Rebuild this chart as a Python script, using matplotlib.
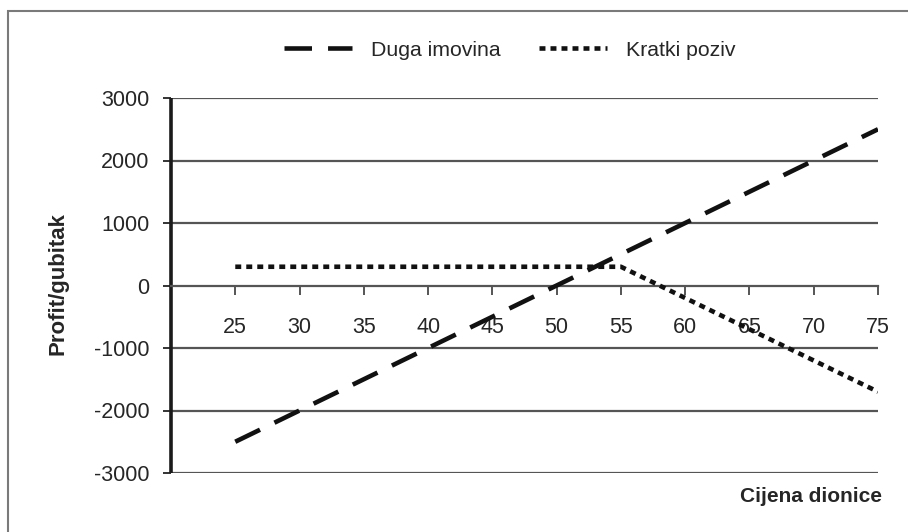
import matplotlib
matplotlib.use("Agg")
import matplotlib.pyplot as plt
from matplotlib.patches import Rectangle

plt.rcParams['font.family'] = ['Liberation Sans', 'DejaVu Sans']

# Data
prices = [25, 30, 35, 40, 45, 50, 55, 60, 65, 70, 75]
duga_imovina = [-2500, -2000, -1500, -1000, -500, 0, 500, 1000, 1500, 2000, 2500]
kratki_poziv = [300, 300, 300, 300, 300, 300, 300, -200, -700, -1200, -1700]
y_ticks = [-3000, -2000, -1000, 0, 1000, 2000, 3000]
x_ticks = [25, 30, 35, 40, 45, 50, 55, 60, 65, 70, 75]

W, H = 908, 532
fig = plt.figure(figsize=(W / 100, H / 100), dpi=100)
ax = fig.add_axes([171 / W, 1 - 473 / H, (878 - 171) / W, (473 - 98) / H])

text_color = '#262626'
grid_color = '#555555'

# gridlines
for yv in y_ticks:
    if yv != 0:
        ax.axhline(yv, color=grid_color, lw=1.6, zorder=1)

l1, = ax.plot(prices, duga_imovina, color='#111111', lw=3.3, dashes=(6.0, 3.5),
              dash_capstyle='butt', label='Duga imovina', zorder=3)
l2, = ax.plot(prices, kratki_poziv, color='#111111', lw=3.3, dashes=(1.3, 1.1),
              dash_capstyle='butt', label='Kratki poziv', zorder=3)

ax.set_xlim(20, 75)
ax.set_ylim(-3000, 3000)

ax.spines['top'].set_visible(False)
ax.spines['right'].set_visible(False)
ax.spines['bottom'].set_position(('data', 0))
ax.spines['bottom'].set_color(grid_color)
ax.spines['bottom'].set_linewidth(1.6)
ax.spines['left'].set_color('#1a1a1a')
ax.spines['left'].set_linewidth(2.6)
ax.spines['left'].set_capstyle('butt')

ax.set_xticks(x_ticks)
ax.set_xticklabels([str(v) for v in x_ticks])
ax.set_yticks(y_ticks)
ax.set_yticklabels([str(v) for v in y_ticks])

ax.tick_params(axis='x', direction='out', length=6.5, width=1.4, color=grid_color,
               pad=16, labelsize=15.5, labelcolor=text_color)
ax.tick_params(axis='y', direction='out', length=5.5, width=1.4, color='#333333',
               pad=10, labelsize=15.5, labelcolor=text_color)

fig.text(58 / W, 1 - 284 / H, 'Profit/gubitak', rotation=90, ha='center', va='center',
         fontsize=16, fontweight='bold', color=text_color)
fig.text(882 / W, 1 - 496 / H, 'Cijena dionice', ha='right', va='center',
         fontsize=15, fontweight='bold', color=text_color)

fig.legend(handles=[l1, l2], loc='center', bbox_to_anchor=(510 / W, 1 - 50 / H),
           ncol=2, frameon=False, fontsize=15.3, handlelength=3.2, handletextpad=0.9,
           columnspacing=1.8, labelcolor=text_color)

# outer frame
fig.patches.append(Rectangle((8 / W, -0.05), 1.2, 1.05 - 11 / H, transform=fig.transFigure,
                             fill=False, edgecolor='#7a7a7a', lw=1.5, zorder=0))

fig.savefig('out.png', dpi=100)
